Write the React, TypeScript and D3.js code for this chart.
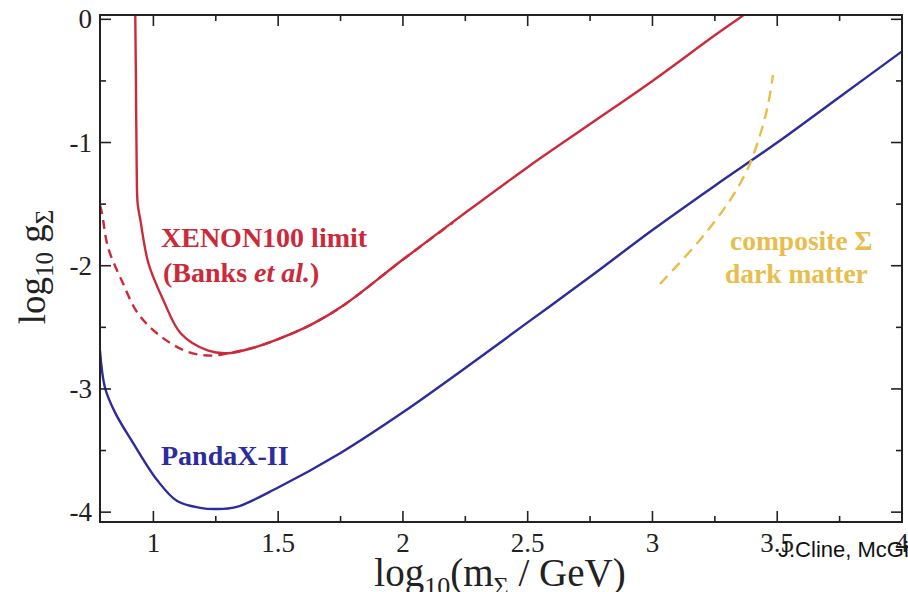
import React from "react";
import * as d3 from "d3";

// ---- data ----
const xMajorTicks = [1, 1.5, 2, 2.5, 3, 3.5, 4];
const xMajorLabels = ["1", "1.5", "2", "2.5", "3", "3.5", "4"];
const xMinorTicks = [1.25, 1.75, 2.25, 2.75, 3.25, 3.75];
const yMajorTicks = [-4, -3, -2, -1, 0];
const yMajorLabels = ["-4", "-3", "-2", "-1", "0"];
const yMinorTicks = [-3.5, -2.5, -1.5, -0.5];

const xenonSolidX = [0.927, 0.93, 0.933, 0.937, 0.947, 0.98, 1.04, 1.11, 1.22, 1.3, 1.41, 1.52, 1.64, 1.77, 2.0, 2.25, 2.5, 2.75, 3.0, 3.25, 3.37, 3.42];
const xenonSolidY = [0.1, -0.5, -1.2, -1.5, -1.62, -1.98, -2.28, -2.55, -2.69, -2.71, -2.66, -2.58, -2.47, -2.31, -1.95, -1.57, -1.2, -0.85, -0.5, -0.13, 0.04, 0.11];

const xenonDashX = [0.786, 0.794, 0.818, 0.873, 0.939, 1.034, 1.139, 1.234, 1.3, 1.41, 1.52, 1.64, 1.77, 2.0, 2.2];
const xenonDashY = [-1.51, -1.575, -1.85, -2.12, -2.39, -2.58, -2.7, -2.73, -2.71, -2.66, -2.58, -2.47, -2.31, -1.95, -1.65];

const pandaX = [0.786, 0.806, 0.846, 0.919, 1.015, 1.095, 1.187, 1.25, 1.33, 1.5, 1.75, 2.0, 2.25, 2.5, 2.75, 3.0, 3.25, 3.5, 3.75, 4.0];
const pandaY = [-2.69, -2.99, -3.19, -3.44, -3.74, -3.91, -3.965, -3.975, -3.96, -3.8, -3.52, -3.19, -2.83, -2.46, -2.09, -1.71, -1.35, -1.0, -0.63, -0.26];

const compositeX = [3.03, 3.19, 3.311, 3.383, 3.431, 3.463, 3.483];
const compositeY = [-2.148, -1.791, -1.467, -1.207, -0.939, -0.696, -0.452];

// ---- layout ----
const W = 908;
const H = 592;
const L = 100, R = 902, T = 15, B = 522;

const RED = "#cc2a3a";
const BLUE = "#2c2c9c";
const YELLOW = "#e8bd4c";
const SERIF = "'Liberation Serif', 'Times New Roman', serif";

export default function App() {
  const x = d3.scaleLinear().domain([0.786, 4.0]).range([L, R]);
  const y = d3.scaleLinear().domain([-4.08, 0.035]).range([B, T]);

  const zip = (a: number[], b: number[]) => a.map((v, i) => [v, b[i]] as [number, number]);

  const lineCR = d3
    .line<[number, number]>()
    .x((d) => x(d[0]))
    .y((d) => y(d[1]))
    .curve(d3.curveCatmullRom.alpha(0.5));

  const major = 11;
  const minor = 6;

  return (
    <svg
      width={W}
      height={H}
      style={{ position: "absolute", left: 0, top: 0, background: "#fff" }}
    >
      <defs>
        <clipPath id="plot">
          <rect x={L} y={T} width={R - L} height={B - T} />
        </clipPath>
      </defs>
      <rect x={0} y={0} width={W} height={H} fill="#fff" />

      <g clipPath="url(#plot)" fill="none">
        <path d={lineCR(zip(xenonDashX, xenonDashY)) || ""} stroke={RED} strokeWidth={2.4} strokeDasharray="9,6" />
        <path d={lineCR(zip(xenonSolidX, xenonSolidY)) || ""} stroke={RED} strokeWidth={2.4} />
        <path d={lineCR(zip(pandaX, pandaY)) || ""} stroke={BLUE} strokeWidth={2.4} />
        <path d={lineCR(zip(compositeX, compositeY)) || ""} stroke={YELLOW} strokeWidth={2.4} strokeDasharray="11,7" />
      </g>

      {/* frame */}
      <rect x={L} y={T} width={R - L} height={B - T} fill="none" stroke="#222" strokeWidth={2} />

      {/* ticks */}
      <g stroke="#222" strokeWidth={1.6}>
        {xMajorTicks.map((v) => (
          <g key={"xm" + v}>
            <line x1={x(v)} x2={x(v)} y1={B} y2={B - major} />
            <line x1={x(v)} x2={x(v)} y1={T} y2={T + major} />
          </g>
        ))}
        {xMinorTicks.map((v) => (
          <g key={"xn" + v}>
            <line x1={x(v)} x2={x(v)} y1={B} y2={B - minor} />
            <line x1={x(v)} x2={x(v)} y1={T} y2={T + minor} />
          </g>
        ))}
        {yMajorTicks.map((v) => (
          <g key={"ym" + v}>
            <line x1={L} x2={L + major} y1={y(v)} y2={y(v)} />
            <line x1={R} x2={R - major} y1={y(v)} y2={y(v)} />
          </g>
        ))}
        {yMinorTicks.map((v) => (
          <g key={"yn" + v}>
            <line x1={L} x2={L + minor} y1={y(v)} y2={y(v)} />
            <line x1={R} x2={R - minor} y1={y(v)} y2={y(v)} />
          </g>
        ))}
      </g>

      {/* tick labels */}
      <g fontFamily={SERIF} fontSize={27} fill="#222">
        {xMajorTicks.map((v, i) => (
          <text key={"xl" + v} x={x(v)} y={552} textAnchor="middle">
            {xMajorLabels[i]}
          </text>
        ))}
        {yMajorTicks.map((v, i) => (
          <text key={"yl" + v} x={92} y={y(v) + 9} textAnchor="end">
            {yMajorLabels[i]}
          </text>
        ))}
      </g>

      {/* axis titles */}
      <text x={500} y={586} textAnchor="middle" fontFamily={SERIF} fontSize={39} fill="#222">
        log
        <tspan fontSize={26} dy={9}>10</tspan>
        <tspan dy={-9}>(m</tspan>
        <tspan fontSize={26} dy={9}>Σ</tspan>
        <tspan dy={-9}> / GeV)</tspan>
      </text>
      <text
        transform="translate(45,267) rotate(-90)"
        textAnchor="middle"
        fontFamily={SERIF}
        fontSize={37}
        fill="#222"
      >
        log
        <tspan fontSize={25} dy={8}>10</tspan>
        <tspan dy={-8}> g</tspan>
        <tspan fontSize={25} dy={8}>Σ</tspan>
      </text>

      {/* annotations */}
      <g fontFamily={SERIF} fontSize={28} fontWeight="bold">
        <text x={161} y={247} fill={RED}>XENON100 limit</text>
        <text x={163} y={282} fill={RED}>
          (Banks <tspan fontStyle="italic">et al.</tspan>)
        </text>
        <text x={161} y={465} fill={BLUE}>PandaX-II</text>
      </g>
      <g fontFamily={SERIF} fontSize={27.5} fontWeight="bold" fill={YELLOW}>
        <text x={730} y={250}>composite Σ</text>
        <text x={725} y={283}>dark matter</text>
      </g>

      <text x={778} y={557} fontFamily="'Liberation Sans', Arial, sans-serif" fontSize={22} fill="#111">
        J.Cline, McGill
      </text>
    </svg>
  );
}
